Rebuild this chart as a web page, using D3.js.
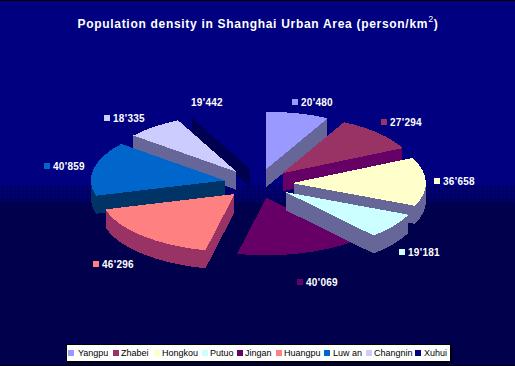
<!DOCTYPE html>
<html>
<head>
<meta charset="utf-8">
<script src="https://cdn.jsdelivr.net/npm/d3@7"></script>
<style>
    html, body { margin: 0; padding: 0; background: #00004d; }
    svg { display: block; }
    text { font-family: "Liberation Sans", Arial, sans-serif; }
</style>
</head>
<body>
<div class="canvas"></div>
<script>
// chart data
const categories = ['Yangpu', 'Zhabei', 'Hongkou', 'Putuo', 'Jingan', 'Huangpu', 'Luw an', 'Changnin', 'Xuhui'];
const density = [20480, 27294, 36658, 19181, 40069, 46296, 40859, 18335, 19442];
const topColors = ['#9999ff', '#993366', '#ffffcc', '#ccffff', '#660066', '#ff8080', '#0066cc', '#ccccff', '#000080'];
const sideColors = ['#666699', '#660066', '#666699', '#666699', '#00004d', '#993366', '#003366', '#666699', '#000050'];

// back to front, so nearer slices cover the ones behind
const drawOrder = ['Xuhui', 'Yangpu', 'Changnin', 'Zhabei', 'Luw an', 'Jingan', 'Huangpu', 'Hongkou', 'Putuo'];

// where the value labels and legend entries sit (key x, key y)
const labelSpots = [[295, 102], [384, 122], [437, 181], [402, 252], [300, 282], [96, 264], [47, 166], [107, 118], [185, 102]];
const legendX = [68, 113, 154, 202, 237, 276, 324, 366, 415];
const legendTextGap = [10, 8, 8, 8, 8, 8, 9, 8, 9];

const width = 515;
const height = 366;

const svg = d3.select('.canvas')
    .append('svg')
        .attr('width', width)
        .attr('height', height);

// background, navy fading to dark through a dithered band
const defs = svg.append('defs');
const grad = defs.append('linearGradient')
    .attr('id', 'bg')
    .attr('x1', 0).attr('x2', 0)
    .attr('y1', 0).attr('y2', 1);
grad.append('stop').attr('offset', 0.5).attr('stop-color', '#000080');
grad.append('stop').attr('offset', 0.56).attr('stop-color', '#00004d');

const dither = defs.append('pattern')
    .attr('id', 'dither')
    .attr('width', 4).attr('height', 4)
    .attr('patternUnits', 'userSpaceOnUse');
dither.append('rect').attr('width', 2).attr('height', 2).attr('fill', '#000080');
dither.append('rect').attr('x', 2).attr('y', 2).attr('width', 2).attr('height', 2).attr('fill', '#000058');

svg.append('rect')
    .attr('width', width)
    .attr('height', height)
    .attr('fill', 'url(#bg)');
svg.append('rect')
    .attr('y', 186)
    .attr('width', width)
    .attr('height', 16)
    .attr('fill', 'url(#dither)')
    .attr('opacity', 0.8);

// thin black frame lines
svg.append('rect').attr('width', width).attr('height', 1).attr('fill', '#000');
svg.append('rect').attr('y', height - 1).attr('width', width).attr('height', 1).attr('fill', '#000');

// title
const title = svg.append('text')
    .attr('x', 258)
    .attr('y', 28)
    .attr('text-anchor', 'middle')
    .attr('fill', '#fff')
    .attr('font-size', 12)
    .attr('font-weight', 'bold')
    .attr('letter-spacing', 0.7);
title.append('tspan').text('Population density in Shanghai Urban Area (person/km');
title.append('tspan').attr('font-size', 9).attr('font-weight', 'normal').attr('dy', -6).text('2');
title.append('tspan').attr('dy', 6).text(')');

// pie geometry
const centre = { x: 258, y: 183.5 };
const radius = 134;
const tilt = 0.43;
const explode = 33.9;
const depth = 18;

const pie = d3.pie().sort(null).value(d => d.value);
const arc = d3.arc().innerRadius(0).outerRadius(radius);

const slices = pie(categories.map((name, i) => ({ name, value: density[i], i })));
const sliceByName = new Map(slices.map(s => [s.data.name, s]));
const midAngle = s => (s.startAngle + s.endAngle) / 2;

const sliceGroups = svg.append('g')
    .selectAll('g')
    .data(drawOrder.map(name => sliceByName.get(name)))
    .enter()
    .append('g')
        .attr('transform', d => {
            const x = centre.x + explode * Math.sin(midAngle(d));
            const y = centre.y - explode * tilt * Math.cos(midAngle(d));
            return `translate(${x}, ${y})`;
        })
        .attr('shape-rendering', 'crispEdges');

// side walls, the slice shape stacked downwards
sliceGroups.each(function(d) {
    const g = d3.select(this);
    d3.range(depth, 0, -1).forEach(offset => {
        g.append('path')
            .attr('d', arc(d))
            .attr('transform', `translate(0, ${offset}) scale(1, ${tilt})`)
            .attr('fill', sideColors[d.data.i]);
    });
});

// top faces
sliceGroups.append('path')
    .attr('d', d => arc(d))
    .attr('transform', `scale(1, ${tilt})`)
    .attr('fill', d => topColors[d.data.i]);

// value labels with their keys
const valueFormat = d3.formatLocale({ decimal: '.', thousands: "'", grouping: [3], currency: ['', ''] }).format(',');

const labels = svg.append('g')
    .selectAll('g')
    .data(slices)
    .enter()
    .append('g')
        .attr('transform', d => `translate(${labelSpots[d.data.i][0]}, ${labelSpots[d.data.i][1]})`);

labels.append('rect')
    .attr('x', -3)
    .attr('y', -3)
    .attr('width', 6)
    .attr('height', 6)
    .attr('fill', d => topColors[d.data.i])
    .attr('shape-rendering', 'crispEdges');

labels.append('text')
    .attr('x', 6)
    .attr('y', 4)
    .attr('fill', '#fff')
    .attr('font-size', 10)
    .attr('font-weight', 'bold')
    .attr('letter-spacing', 0.3)
    .text(d => valueFormat(d.data.value));

// legend
const legend = svg.append('g');

legend.append('rect')
    .attr('x', 66.5)
    .attr('y', 344.5)
    .attr('width', 384)
    .attr('height', 17)
    .attr('fill', '#fff')
    .attr('stroke', '#000')
    .attr('shape-rendering', 'crispEdges');
legend.append('rect').attr('x', 67).attr('y', 362).attr('width', 385).attr('height', 1).attr('fill', '#000');
legend.append('rect').attr('x', 451).attr('y', 345).attr('width', 1).attr('height', 18).attr('fill', '#000');

const legendItems = legend.selectAll('g')
    .data(categories)
    .enter()
    .append('g')
        .attr('transform', (d, i) => `translate(${legendX[i]}, 353)`);

legendItems.append('rect')
    .attr('y', -3)
    .attr('width', 6)
    .attr('height', 6)
    .attr('fill', (d, i) => topColors[i])
    .attr('shape-rendering', 'crispEdges');

legendItems.append('text')
    .attr('x', (d, i) => legendTextGap[i])
    .attr('y', 3)
    .attr('fill', '#000')
    .attr('font-size', 9)
    .text(d => d);
</script>
</body>
</html>
